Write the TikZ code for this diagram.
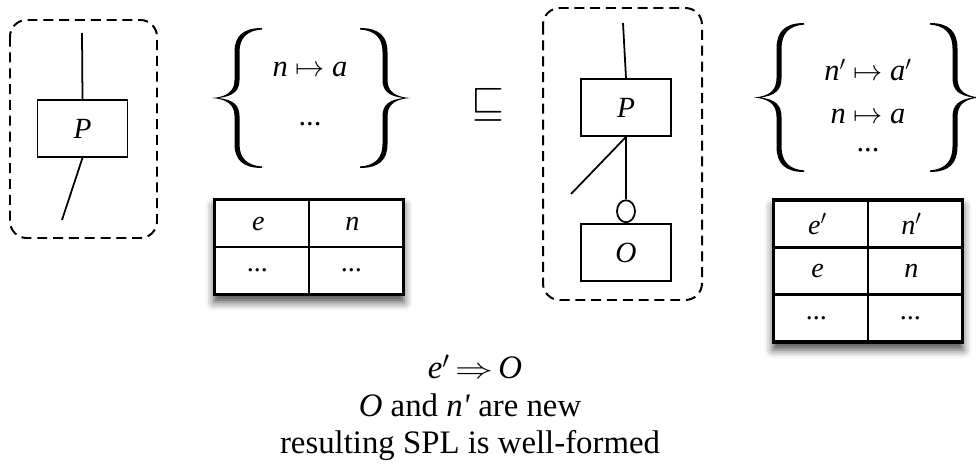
\documentclass[tikz,border=0pt]{standalone}
\usepackage{fontspec}
\usepackage{graphicx}
\setmainfont{Liberation Serif}
\usetikzlibrary{matrix,shapes.geometric,shadows.blur}
\newcommand{\vn}[1]{\textit{#1}}

\tikzset{
	setbr/.pic={
		\fill (50,-70) .. controls (31,-70) and (22.5,-62) .. (22.5,-46) -- (22.5,-18)
			.. controls (22.5,-6) and (14,-1) .. (0,0) .. controls (14,1) and (22.5,6) .. (22.5,18)
			-- (22.5,46) .. controls (22.5,62) and (31,70) .. (50,70)
			-- (50,68.5) .. controls (35,67.5) and (27.5,60) .. (27.5,46) -- (27.5,18)
			.. controls (27.5,7) and (21,1.5) .. (6,0) .. controls (21,-1.5) and (27.5,-7) .. (27.5,-18)
			-- (27.5,-46) .. controls (27.5,-60) and (35,-67.5) .. (50,-68.5) -- cycle;
	}
}

\begin{document}
\begin{tikzpicture}[x=0.3mm,y=-0.3mm, every text node part/.style={align=center},
	compbox/.style={draw, line width=1.5pt, minimum width=27mm, minimum height=17.1mm, font=\fontsize{25pt}{28pt}\selectfont},
	dashbox/.style={draw, line width=1.7pt, dash pattern=on 8.5pt off 5pt, rounded corners=5mm},
	wire/.style={line width=1.5pt},
	lbl/.style={font=\fontsize{26pt}{30pt}\selectfont},
	note/.style={font=\fontsize{28pt}{32pt}\selectfont},
	tab/.style={matrix of nodes, draw, fill=white, inner sep=0pt, line width=2pt,
		column sep=-2pt, row sep=-2pt,
		blur shadow={shadow xshift=0pt, shadow yshift=-6pt, shadow blur radius=7pt, shadow opacity=70},
		nodes={draw, line width=2pt, minimum width=28.2mm, minimum height=14.1mm, font=\fontsize{24pt}{28pt}\selectfont}}]
		
		\useasboundingbox (0,0) rectangle (976,467);
		
		\draw[dashbox] (10,20) rectangle (157,238);
		
		\node (pl) [compbox] at (82.5,128.5) {\vn{P}};
		\coordinate (lt) at (82,33);
		\coordinate (lb) at (62,220);
		\draw[wire] (lt) -- (pl.north);
		\draw[wire] (pl.south) -- (lb);
		
		\pic at (212,98) {setbr};
		\pic[xscale=-1] at (410,98) {setbr};
		\node (ml) [lbl] at (310,69) {\vn{n} $\mapsto$ \vn{a}};
		\node (dl) [lbl] at (310,124) {...};
		
		\matrix (tl) [tab] at (309,247) {
			\vn{e} & \vn{n} \\
			... & ... \\
		};
		
		\node (sq) [font=\fontsize{20pt}{24pt}\selectfont] at (488,105) {\scalebox{1.75}{$\sqsubseteq$}};
		
		\draw[dashbox] (543,8) rectangle (702,300);
		
		\node (pr) [compbox] at (626,107.5) {\vn{P}};
		\node (orr) [compbox] at (626,252.5) {\vn{O}};
		\node (lol) [draw, ellipse, line width=1.5pt, inner sep=0pt, minimum width=5.4mm, minimum height=6.6mm, anchor=south] at (orr.north) {};
		\coordinate (rt) at (623,23);
		\coordinate (rb) at (571,194);
		\draw[wire] (rt) -- (pr.north);
		\draw[wire] (pr.south) -- (lol.north);
		\draw[wire] (pr.south) -- (rb);
		
		\pic[yscale=1.064] at (754,97.5) {setbr};
		\pic[xscale=-1, yscale=1.064] at (980,97.5) {setbr};
		\node (mr1) [lbl] at (868,70) {\vn{n}$'$ $\mapsto$ \vn{a}$'$};
		\node (mr2) [lbl] at (868,116) {\vn{n} $\mapsto$ \vn{a}};
		\node (dr) [lbl] at (868,150) {...};
		
		\matrix (tr) [tab] at (868,271) {
			\vn{e}$'$ & \vn{n}$'$ \\
			\vn{e} & \vn{n} \\
			... & ... \\
		};
		
		\node (c1) [note] at (475,367) {\vn{e}$'$\,\scalebox{1.3}[1]{$\Rightarrow$}\,\vn{O}};
		\node (c2) [note] at (470,405) {\vn{O} and \vn{n\textquotesingle} are new};
		\node (c3) [note] at (470,445) {resulting SPL is well-formed};
		
\end{tikzpicture}
\end{document}
